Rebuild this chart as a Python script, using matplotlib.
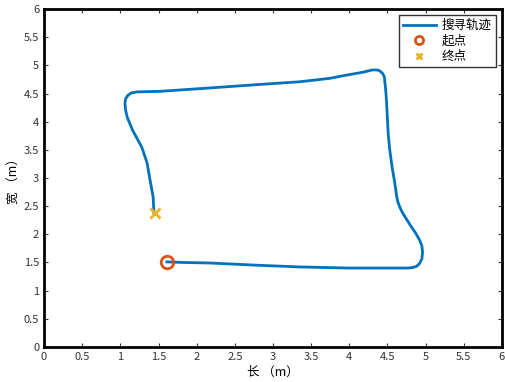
import matplotlib
matplotlib.use('Agg')
import matplotlib.pyplot as plt

plt.rcParams['font.family'] = ['Noto Sans CJK SC', 'DejaVu Sans']

# search path
path_x = [1.61, 1.80, 2.17, 2.80, 3.35, 4.00, 4.50, 4.66, 4.77, 4.83, 4.88, 4.92, 4.95, 4.96,
          4.95, 4.92, 4.87, 4.80, 4.73, 4.69, 4.66, 4.635, 4.62, 4.61, 4.59, 4.56, 4.53, 4.51,
          4.50, 4.49, 4.48, 4.46, 4.44, 4.42, 4.39, 4.36, 4.30, 4.18, 3.97, 3.74, 3.35, 2.80,
          2.17, 1.52, 1.22, 1.14, 1.10, 1.07, 1.06, 1.07, 1.09, 1.16, 1.28, 1.35, 1.39, 1.43,
          1.44]
path_y = [1.51, 1.50, 1.49, 1.45, 1.42, 1.40, 1.40, 1.40, 1.40, 1.41, 1.43, 1.48, 1.56, 1.68,
          1.80, 1.90, 2.02, 2.16, 2.31, 2.40, 2.49, 2.58, 2.68, 2.78, 2.96, 3.20, 3.50, 3.78,
          4.03, 4.30, 4.51, 4.79, 4.85, 4.88, 4.91, 4.92, 4.92, 4.88, 4.83, 4.77, 4.71, 4.66,
          4.60, 4.54, 4.53, 4.51, 4.47, 4.41, 4.33, 4.20, 4.08, 3.85, 3.55, 3.27, 2.96, 2.66,
          2.38]
start_pt = (1.61, 1.50)
end_pt = (1.45, 2.37)

xticks = [0, 0.5, 1, 1.5, 2, 2.5, 3, 3.5, 4, 4.5, 5, 5.5, 6]
yticks = [0, 0.5, 1, 1.5, 2, 2.5, 3, 3.5, 4, 4.5, 5, 5.5, 6]

fig = plt.figure(figsize=(5.06, 3.82), dpi=100)
ax = fig.add_axes([0.087, 0.092, 0.905, 0.884])

ax.plot(path_x, path_y, color='#0072BD', linewidth=2, label='搜寻轨迹',
        solid_joinstyle='round')
ax.plot(*start_pt, 'o', markersize=9, markerfacecolor='none', markeredgecolor='#D95319',
        markeredgewidth=2, label='起点')
ax.plot(*end_pt, 'x', markersize=7, color='#EDB120', markeredgewidth=2, label='终点')

ax.set_xlim(0, 6)
ax.set_ylim(0, 6)
ax.set_xticks(xticks)
ax.set_yticks(yticks)
ax.set_xticklabels([f'{t:g}' for t in xticks])
ax.set_yticklabels([f'{t:g}' for t in yticks])
ax.tick_params(direction='in', top=True, right=True, labelsize=8, colors='#333333',
               length=3, width=0.8)
for s in ax.spines.values():
    s.set_linewidth(2)
    s.set_color('black')

ax.set_xlabel('长 （m）', fontsize=9, labelpad=3)
ax.set_ylabel('宽 （m）', fontsize=9, labelpad=2)

leg = ax.legend(loc='upper right', fontsize=9, fancybox=False, framealpha=1,
                edgecolor='#333333', handlelength=2.6, borderpad=0.3, labelspacing=0.2,
                handletextpad=0.5, markerscale=0.65)
leg.get_frame().set_linewidth(1)

fig.savefig('out.png', dpi=100)
